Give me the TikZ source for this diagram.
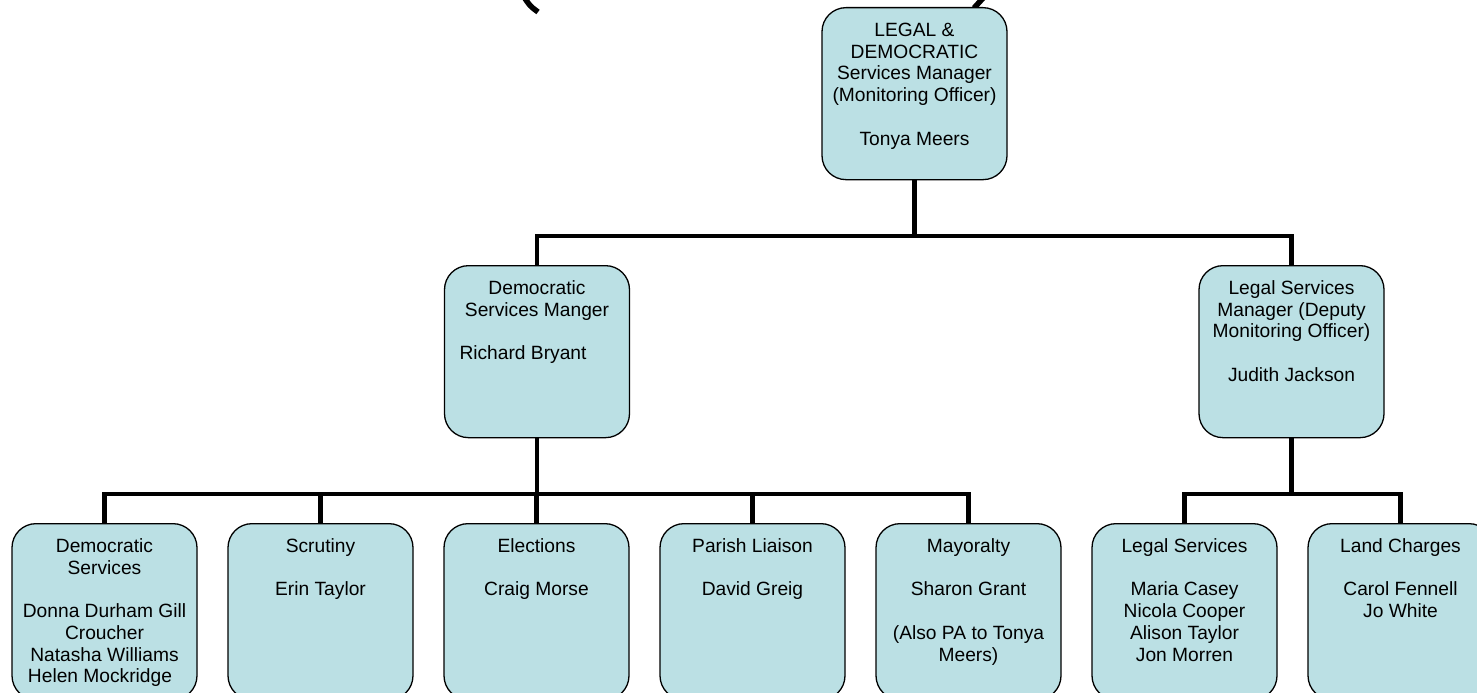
\documentclass[tikz,border=0pt]{standalone}
\usepackage{fontspec}
\setmainfont{Liberation Sans}
\definecolor{boxfill}{RGB}{187,224,228}
\tikzset{
  orgbox/.style={draw=black, line width=1.3pt, fill=boxfill, rounded corners=24pt, anchor=north, inner sep=0pt},
  conn/.style={line width=4.5pt, line join=miter, line cap=butt},
  glyph/.style={line width=5.5pt, line cap=butt}
}
\newcommand{\boxtext}[2]{\begin{minipage}[t][#1][t]{185pt}\centering\fontsize{19.2pt}{21.7pt}\selectfont\rule{0pt}{28.9pt}#2\end{minipage}}
\begin{document}
\begin{tikzpicture}[x=1pt,y=-1pt]
\useasboundingbox (0,0) rectangle (1477,693);
\clip (0,0) rectangle (1477,693);
% fragments of large bracket glyphs cut off at the top
\draw[glyph] (524,-3) .. controls (530,6) .. (538,12);
\draw[glyph] (984,-3) -- (974,8);
% top level
\node[orgbox] (top) at (914.5,7) {\boxtext{172pt}{LEGAL \&\\DEMOCRATIC\\Services Manager\\(Monitoring Officer)\\\mbox{}\\Tonya Meers}};
% middle level
\node[orgbox] (dsm) at (537,265) {\boxtext{172pt}{Democratic\\Services Manger\\\mbox{}\\Richard Bryant\rule{28pt}{0pt}}};
\node[orgbox] (lsm) at (1291.5,265) {\boxtext{172pt}{Legal Services\\Manager (Deputy\\Monitoring Officer)\\\mbox{}\\Judith Jackson}};
% bottom level
\node[orgbox] (b1) at (104.5,523) {\boxtext{176pt}{Democratic\\Services\\\mbox{}\\Donna Durham Gill\\Croucher\\Natasha Williams\\Helen Mockridge\rule{9pt}{0pt}}};
\node[orgbox] (b2) at (320.5,523) {\boxtext{176pt}{Scrutiny\\\mbox{}\\Erin Taylor}};
\node[orgbox] (b3) at (536.5,523) {\boxtext{176pt}{Elections\\\mbox{}\\Craig Morse}};
\node[orgbox] (b4) at (752.5,523) {\boxtext{176pt}{Parish Liaison\\\mbox{}\\David Greig}};
\node[orgbox] (b5) at (968.5,523) {\boxtext{176pt}{Mayoralty\\\mbox{}\\Sharon Grant\\\mbox{}\\(Also PA to Tonya\\Meers)}};
\node[orgbox] (b6) at (1184.5,523) {\boxtext{176pt}{Legal Services\\\mbox{}\\Maria Casey\\Nicola Cooper\\Alison Taylor\\Jon Morren}};
\node[orgbox] (b7) at (1400.5,523) {\boxtext{176pt}{Land Charges\\\mbox{}\\Carol Fennell\\Jo White}};
% connectors
\coordinate (j1) at (914.5,236);
\coordinate (j2) at (537,494);
\coordinate (j3) at (1291.5,494);
\draw[conn] (top.south) -- (j1);
\draw[conn] (dsm.north) |- (j1) -| (lsm.north);
\draw[conn] (dsm.south) -- (j2);
\draw[conn] (b1.north) |- (j2) -| (b5.north);
\draw[conn] (b2.north) -- (b2.north |- j2);
\draw[conn] (b3.north) -- (b3.north |- j2);
\draw[conn] (b4.north) -- (b4.north |- j2);
\draw[conn] (lsm.south) -- (j3);
\draw[conn] (b6.north) |- (j3) -| (b7.north);
\end{tikzpicture}
\end{document}
